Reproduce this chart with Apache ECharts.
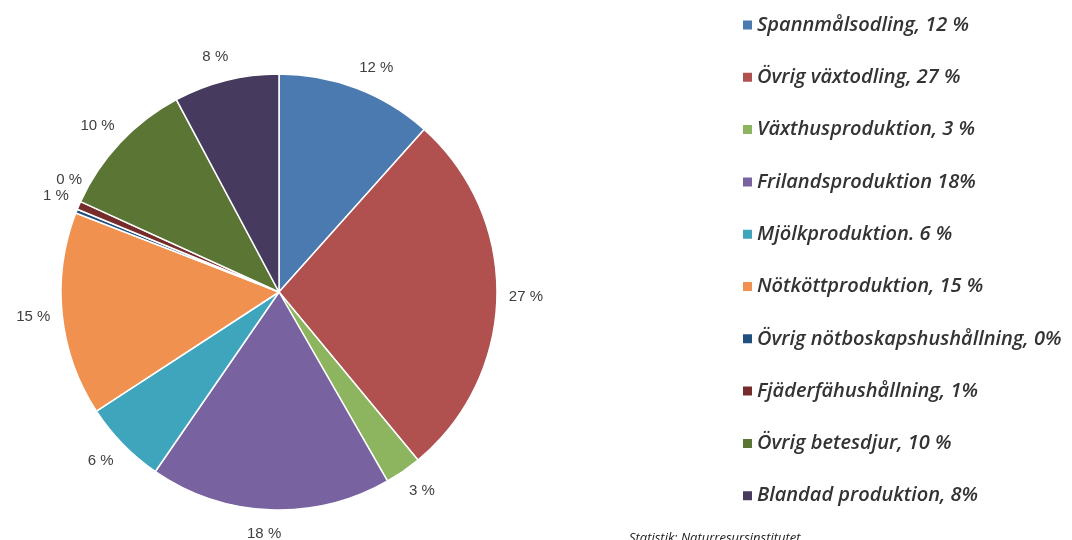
<!DOCTYPE html>
<html><head><meta charset="utf-8">
<script src="https://cdn.jsdelivr.net/npm/echarts@6/dist/echarts.min.js"></script>
<style>html,body{margin:0;padding:0;background:#fff}#c{width:1072px;height:540px}</style>
</head><body><div id="c"></div>
<script>
const categories = ["Spannmålsodling, 12 %","Övrig växtodling, 27 %","Växthusproduktion, 3 %","Frilandsproduktion 18%","Mjölkproduktion. 6 %","Nötköttproduktion, 15 %","Övrig nötboskapshushållning, 0%","Fjäderfähushållning, 1%","Övrig betesdjur, 10 %","Blandad produktion, 8%"];
const values = [11.6, 27.4, 2.7, 17.9, 6.2, 15.1, 0.3, 0.6, 10.4, 7.8];
const colors = ["#4a7ab0","#b05150","#8db45f","#7862a0","#3ea5bd","#f0914f","#215080","#772c2c","#5a7534","#473a5f"];
const source = "Statistik: Naturresursinstitutet";

const labelOffsets = {6:[20,-22], 7:[4,0], 0:[6,2]};

const chart = echarts.init(document.getElementById('c'), null, {renderer:'canvas'});
chart.setOption({
  animation:false,
  color: colors,
  legend: {
    orient:'vertical', left:736, top:10, itemWidth:11, itemHeight:11, itemGap:32.3,
    icon:'rect',
    data: categories,
    textStyle:{fontFamily:'Open Sans', fontStyle:'italic', fontWeight:600, fontSize:20, color:'#333', padding:[0,0,0,-1]}
  },
  graphic:[{type:'text', left:629, top:532, style:{text:source, fontFamily:'Open Sans', fontStyle:'italic', fontSize:13, fill:'#222'}}],
  series:[{
    type:'pie', center:[279,292], radius:218, startAngle:90, clockwise:true,
    data: categories.map((n,i)=>({name:n, value:values[i], label: labelOffsets[i] ? {offset:labelOffsets[i]} : undefined})),
    itemStyle:{borderColor:'#fff', borderWidth:1.5},
    label:{show:true, position:'outside', formatter:p=>Math.round(p.value)+' %', fontFamily:'Liberation Sans', fontSize:15, color:'#404040'},
    labelLine:{show:false, length:24, length2:0},
    labelLayout:{align:'center', verticalAlign:'middle'},
    avoidLabelOverlap:false
  }]
});
</script></body></html>
